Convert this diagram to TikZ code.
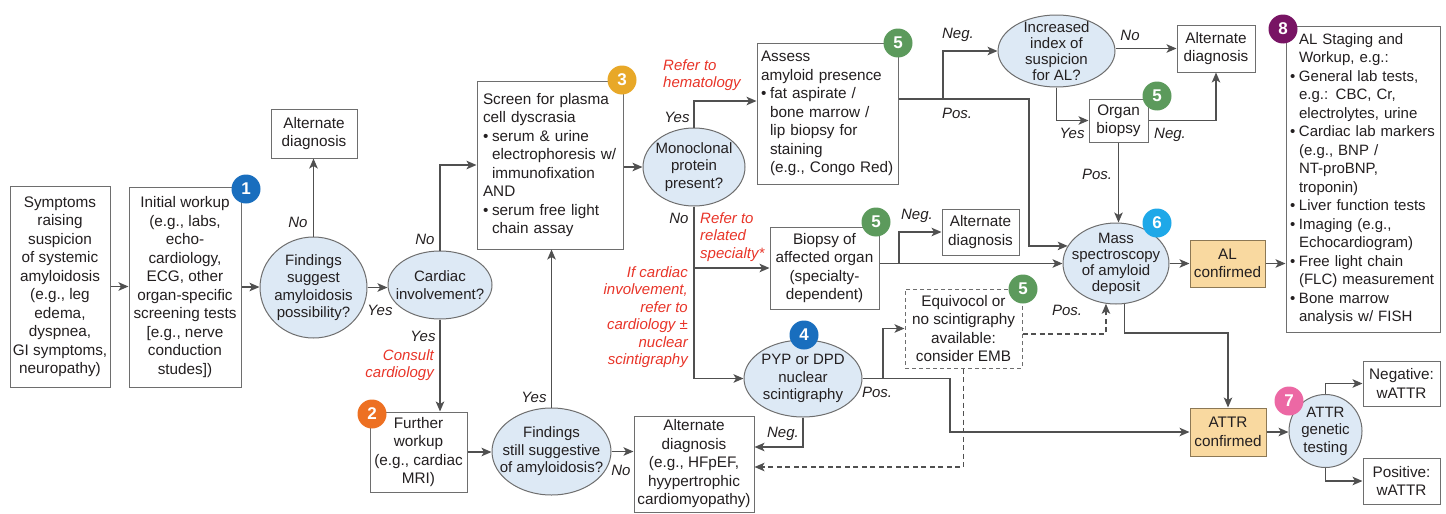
\documentclass[tikz,border=0pt]{standalone}
\usepackage{fontspec}
\setmainfont{Liberation Sans}
\usetikzlibrary{arrows.meta,shapes.geometric}

\definecolor{txt}{RGB}{35,31,32}
\definecolor{boxgray}{RGB}{110,110,110}
\definecolor{linegray}{RGB}{80,80,80}
\definecolor{qfill}{RGB}{221,233,245}
\definecolor{okfill}{RGB}{249,217,160}
\definecolor{okline}{RGB}{140,120,85}
\definecolor{refred}{RGB}{232,52,40}
\definecolor{nblue}{RGB}{25,110,190}
\definecolor{norange}{RGB}{237,112,34}
\definecolor{nyellow}{RGB}{232,168,40}
\definecolor{ngreen}{RGB}{92,154,92}
\definecolor{ncyan}{RGB}{30,168,232}
\definecolor{npink}{RGB}{236,104,164}
\definecolor{npurple}{RGB}{120,20,100}

\newcommand{\boxfont}{\fontsize{15.3}{18.5}\selectfont}
\newcommand{\qfont}{\fontsize{15}{17.5}\selectfont}
\newcommand{\qtight}{\fontsize{15}{16}\selectfont}
\newcommand{\labfont}{\fontsize{15}{17.5}\selectfont\itshape}
\newcommand{\numfont}{\fontsize{17}{17}\selectfont\bfseries}
\newcommand{\bpt}{\makebox[9pt][l]{\textbullet}}
\newcommand{\bind}{\hspace*{9pt}}

\begin{document}
\begin{tikzpicture}[x=1pt,y=-1pt,
  box/.style={draw=boxgray,line width=1pt,fill=white,text=txt,font=\boxfont,align=center,inner sep=1pt},
  lbox/.style={box,align=left,inner xsep=5pt},
  quest/.style={ellipse,draw=boxgray,line width=1pt,fill=qfill,text=txt,font=\qfont,align=center,inner sep=-14pt},
  okbox/.style={box,fill=okfill,draw=okline},
  num/.style={circle,fill=#1,text=white,font=\numfont,minimum size=29pt,inner sep=0pt},
  arr/.style={draw=linegray,line width=1.3pt,-{Stealth[length=10pt,width=8.5pt,inset=2.5pt]}},
  ln/.style={draw=linegray,line width=1.3pt},
  darr/.style={arr,line width=1.1pt,dash pattern=on 5pt off 3.5pt}]
\tikzstyle{lab}=[text=txt,font=\labfont,inner sep=0pt]
\tikzstyle{note}=[text=refred,font=\labfont,inner sep=0pt]
\useasboundingbox (0,0) rectangle (1446,514);

% boxes and questions
\node[box,minimum width=100pt,minimum height=201pt] (sympt) at (60,286.5) {Symptoms\\raising\\suspicion\\of systemic\\amyloidosis\\(e.g., leg\\edema,\\dyspnea,\\GI symptoms,\\neuropathy)};
\node[box,minimum width=112pt,minimum height=200pt] (init) at (185,287) {Initial workup\\(e.g., labs,\\echo-\\cardiology,\\ECG, other\\organ-specific\\screening tests\\{[}e.g., nerve\\conduction\\studes{]})};
\node[quest,minimum width=107pt,minimum height=101pt] (find1) at (313.5,287.5) {Findings\\suggest\\amyloidosis\\possibility?};
\node[box,minimum width=86pt,minimum height=49pt] (alt1) at (314,133.5) {Alternate\\diagnosis};
\node[quest,minimum width=104pt,minimum height=68pt] (card) at (440,285) {Cardiac\\involvement?};
\node[lbox,text width=134pt,minimum height=168pt,inner xsep=6pt] (screen) at (550,165) {Screen for plasma\\cell dyscrasia\\\bpt serum \& urine\\\bind electrophoresis w/\\\bind immunofixation\\AND\\\bpt serum free light\\\bind chain assay};
\node[box,minimum width=97pt,minimum height=80pt] (further) at (418.5,452) {Further\\workup\\(e.g., cardiac\\MRI)};
\node[quest,minimum width=119pt,minimum height=87pt] (find2) at (551.5,451.5) {Findings\\still suggestive\\of amyloidosis?};
\node[box,minimum width=120pt,minimum height=96pt] (alt3) at (694,464) {Alternate\\diagnosis\\(e.g., HFpEF,\\hyypertrophic\\cardiomyopathy)};
\node[quest,minimum width=102pt,minimum height=78pt] (mono) at (694,167) {Monoclonal\\protein\\present?};
\node[lbox,text width=133pt,minimum height=141pt,inner xsep=4pt] (assess) at (827.5,113.5) {Assess\\amyloid presence\\\bpt fat aspirate /\\\bind bone marrow /\\\bind lip biopsy for\\\bind staining\\\bind (e.g., Congo Red)};
\node[quest,minimum width=117pt,minimum height=72pt,font=\qtight] (incr) at (1056.5,51) {Increased\\index of\\suspicion\\for AL?};
\node[box,minimum width=78pt,minimum height=47pt] (altTR) at (1216,48.5) {Alternate\\diagnosis};
\node[box,minimum width=59pt,minimum height=43pt] (organ) at (1118.5,120.5) {Organ\\biopsy};
\node[quest,minimum width=106pt,minimum height=81pt,font=\qtight] (mass) at (1116,263.5) {Mass\\spectroscopy\\of amyloid\\deposit};
\node[okbox,minimum width=75pt,minimum height=47pt] (alconf) at (1227.5,263.5) {AL\\confirmed};
\node[lbox,text width=146pt,minimum height=306pt,inner xsep=4pt,font=\fontsize{15}{18.5}\selectfont] (stage) at (1363,179) {\bind AL Staging and\\\bind Workup, e.g.:\\\bpt General lab tests,\\\bind e.g.: CBC, Cr,\\\bind electrolytes, urine\\\bpt Cardiac lab markers\\\bind (e.g., BNP /\\\bind NT-proBNP,\\\bind troponin)\\\bpt Liver function tests\\\bpt Imaging (e.g.,\\\bind Echocardiogram)\\\bpt Free light chain\\\bind (FLC) measurement\\\bpt Bone marrow\\\bind analysis w/ FISH};
\node[box,minimum width=109pt,minimum height=82pt] (biopsy) at (824.5,268) {Biopsy of\\affected organ\\(specialty-\\dependent)};
\node[box,minimum width=77pt,minimum height=46pt] (alt2) at (980.5,232) {Alternate\\diagnosis};
\node[quest,minimum width=118pt,minimum height=77pt] (pyp) at (803,378.5) {PYP or DPD\\nuclear\\scintigraphy};
\node[box,dash pattern=on 4pt off 3pt,minimum width=117pt,minimum height=79pt] (equiv) at (963.5,328.5) {Equivocol or\\no scintigraphy\\available:\\consider EMB};
\node[okbox,minimum width=76pt,minimum height=48pt] (attr) at (1228,432) {ATTR\\confirmed};
\node[quest,circle,minimum size=73pt] (gen) at (1325.5,431) {ATTR\\genetic\\testing};
\node[box,minimum width=77pt,minimum height=45pt] (negbox) at (1401.5,383.5) {Negative:\\wATTR};
\node[box,minimum width=77pt,minimum height=46pt] (posbox) at (1401.5,481) {Positive:\\wATTR};

% connectors
\coordinate (j1) at (943,99);
\coordinate (j2) at (1029,99);
\coordinate (j3) at (899,263.5);
\coordinate (j4) at (883,378.5);
\coordinate (j5) at (950,378.5);
\coordinate (j6) at (1228,333);
\draw[arr] (sympt.east) -- (sympt.east -| init.west);
\draw[arr] (init.east) -- (init.east -| find1.west);
\draw[arr] (find1.north) -- (find1.north |- alt1.south);
\draw[arr] (find1.east) -- (find1.east -| card.west);
\draw[arr] (card.north) |- (screen.west);
\draw[arr] (card.south) -- (card.south |- further.north);
\draw[arr] (further.east) -- (further.east -| find2.west);
\draw[arr] (find2.north) -- (find2.north |- screen.south);
\draw[arr] (find2.east) -- (find2.east -| alt3.west);
\draw[arr] (screen.east |- mono.west) -- (mono.west);
\draw[arr] (mono.north) |- ([yshift=12.5pt]assess.west);
\draw[ln] (assess.east |- j1) -- (j1);
\draw[arr] (j1) |- (incr.west);
\draw[arr] (j1) -- (j2) |- (mass.160);
\draw[arr] (incr.east |- altTR.west) -- (altTR.west);
\draw[arr] (incr.south) |- (organ.west);
\draw[arr] (organ.east) -| (altTR.south);
\draw[arr] (organ.south) -- (organ.south |- mass.north);
\draw[arr] (mass.east) -- (alconf.west);
\draw[arr] (alconf.east) -- (alconf.east -| stage.west);
\draw[arr] (mono.south) |- (biopsy.west);
\draw[arr] (mono.south) |- (pyp.west);
\draw[arr] (biopsy.east |- mass.west) -- (mass.west);
\draw[arr] (j3) |- (alt2.west);
\draw[ln] (pyp.east) -- (j4);
\draw[arr] (j4) |- (equiv.west);
\draw[arr] (j4) -- (j5) |- (attr.west);
\draw[arr] (pyp.south) |- ([yshift=17pt]alt3.east);
\draw[darr] (equiv.south) |- ([yshift=-3pt]alt3.east);
\draw[darr] ([yshift=-5.5pt]equiv.east) -| (mass.256);
\draw[arr] (mass.282) |- (j6) -- (attr.north);
\draw[arr] (attr.east) -- (attr.east -| gen.west);
\draw[arr] (gen.north) |- (negbox.west);
\draw[arr] (gen.south) |- (posbox.west);

% labels
\node[lab] (l1) at (298,222) {No};
\node[lab] (l2) at (380,310) {Yes};
\node[lab] (l3) at (425,239) {No};
\node[lab] (l4) at (423,336) {Yes};
\node[note,align=right,anchor=east] (n1) at (434,365) {Consult\\cardiology};
\node[lab] (l5) at (534,397) {Yes};
\node[lab] (l6) at (621,470) {No};
\node[note,align=left,anchor=west] (n2) at (663,75) {Refer to\\hematology};
\node[lab] (l7) at (677,117) {Yes};
\node[lab] (l8) at (679,218) {No};
\node[note,align=left,anchor=west] (n3) at (700,237) {Refer to\\related\\specialty*};
\node[note,align=right,anchor=east] (n4) at (688,317) {If cardiac\\involvement,\\refer to\\cardiology ±\\nuclear\\scintigraphy};
\node[lab] (l9) at (958,35) {Neg.};
\node[lab] (l10) at (957,113) {Pos.};
\node[lab] (l11) at (1130,35) {No};
\node[lab] (l12) at (1072,133) {Yes};
\node[lab] (l13) at (1170,135) {Neg.};
\node[lab] (l14) at (1097,174) {Pos.};
\node[lab] (l15) at (917,216) {Neg.};
\node[lab] (l16) at (877,392) {Pos.};
\node[lab] (l17) at (783,434) {Neg.};
\node[lab] (l18) at (1067,310) {Pos.};

% step numbers
\node[num=nblue] (b1) at (246,189) {1};
\node[num=norange] (b2) at (372,414) {2};
\node[num=nyellow] (b3) at (622,80) {3};
\node[num=nblue] (b4) at (804,335) {4};
\node[num=ngreen] (b5a) at (898,43) {5};
\node[num=ngreen] (b5b) at (1157,96) {5};
\node[num=ngreen] (b5c) at (876,222) {5};
\node[num=ngreen] (b5d) at (1023,289) {5};
\node[num=ncyan] (b6) at (1157,223) {6};
\node[num=npink] (b7) at (1289,401) {7};
\node[num=npurple] (b8) at (1283,29) {8};
\end{tikzpicture}
\end{document}
